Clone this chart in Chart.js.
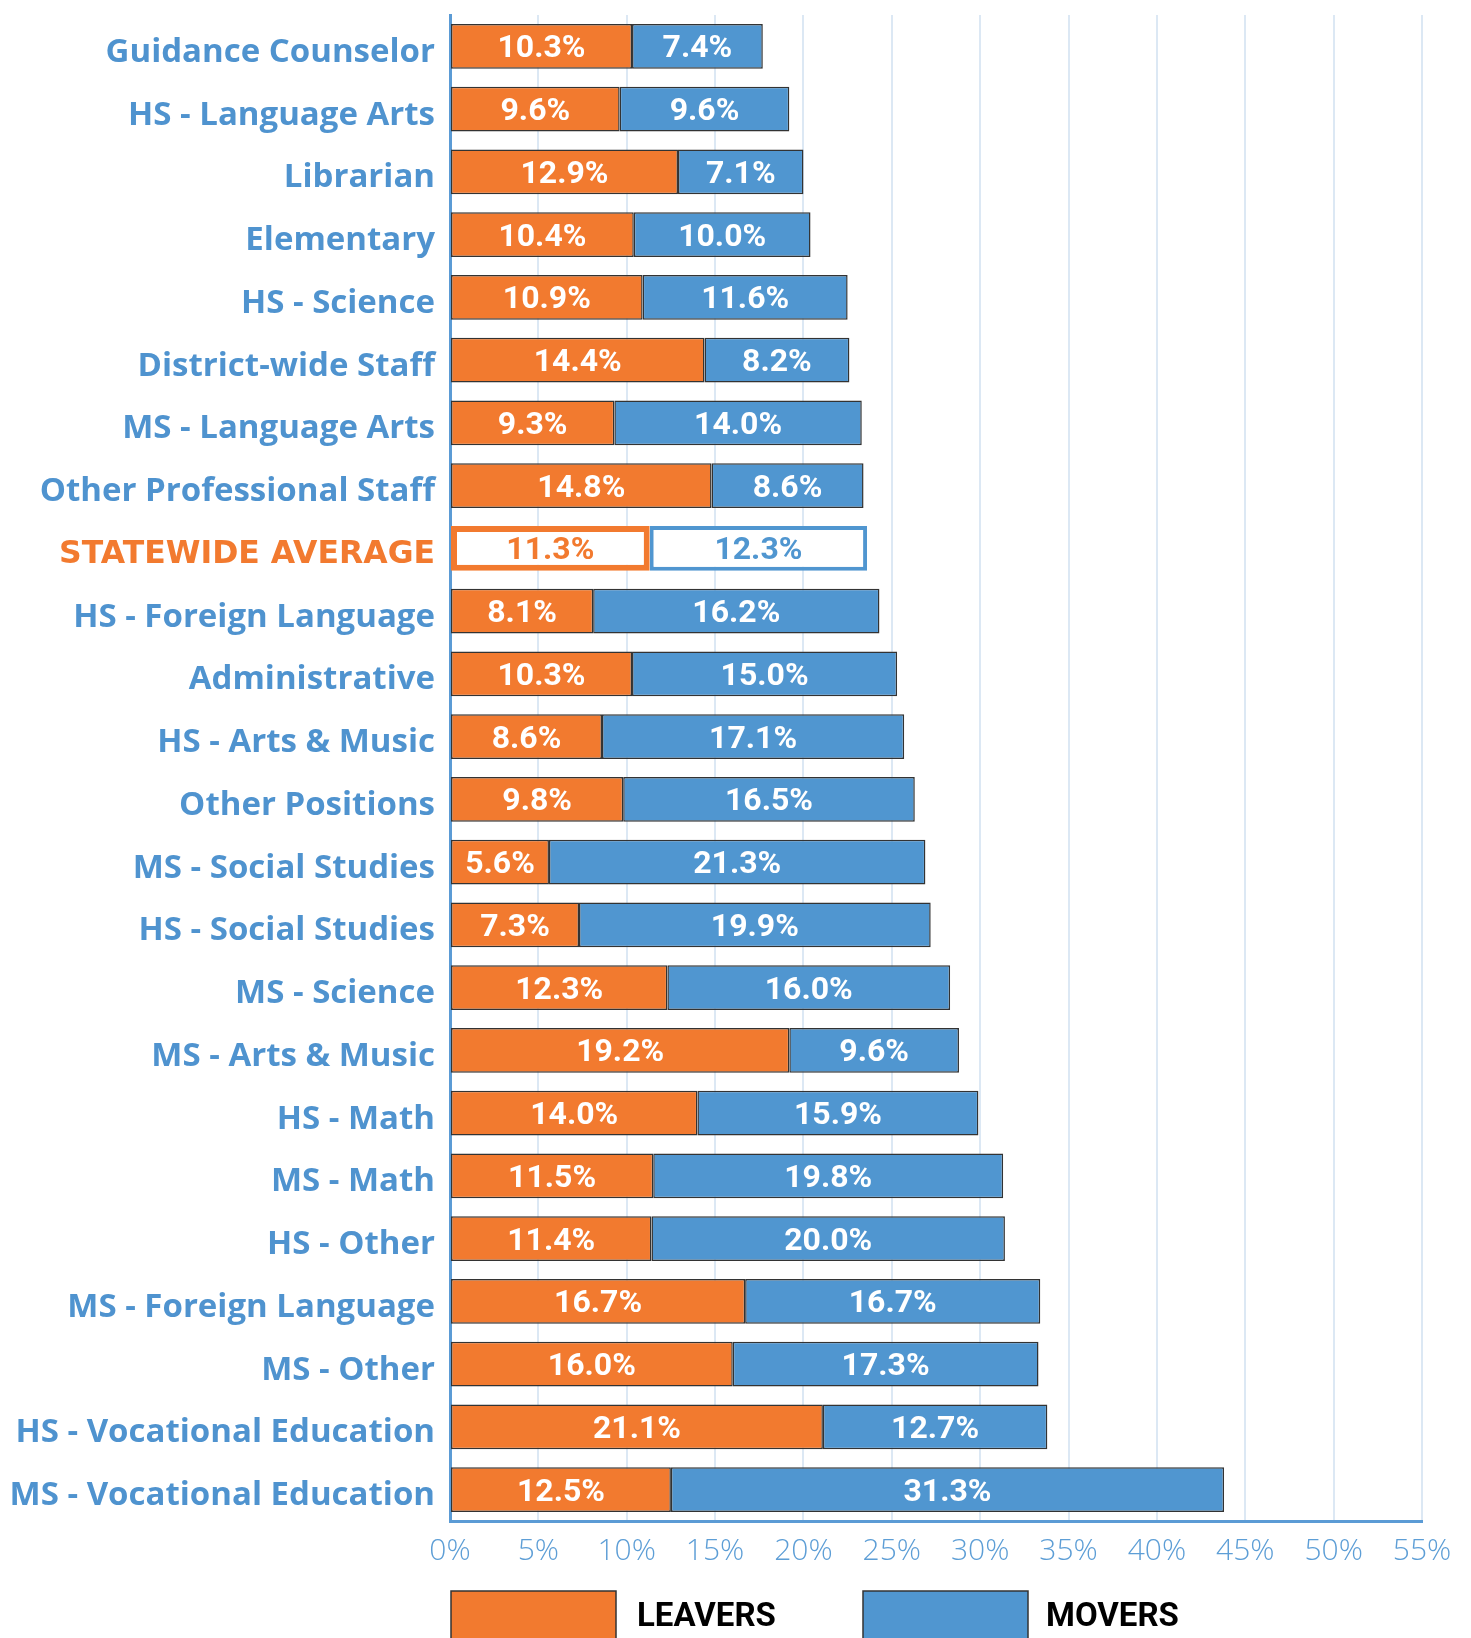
<!DOCTYPE html>
<html>
<head>
<meta charset="utf-8">
<script src="https://cdn.jsdelivr.net/npm/chart.js@4.4.1/dist/chart.umd.min.js"></script>
<style>
  body { margin: 0; background: #fff; }
  #wrap { width: 1471px; height: 1638px; position: relative; }
</style>
</head>
<body>
<div id="wrap"><canvas id="myChart"></canvas></div>
<script>
const categories = [
  "Guidance Counselor", "HS - Language Arts", "Librarian", "Elementary",
  "HS - Science", "District-wide Staff", "MS - Language Arts", "Other Professional Staff",
  "STATEWIDE AVERAGE", "HS - Foreign Language", "Administrative", "HS - Arts & Music",
  "Other Positions", "MS - Social Studies", "HS - Social Studies", "MS - Science",
  "MS - Arts & Music", "HS - Math", "MS - Math", "HS - Other",
  "MS - Foreign Language", "MS - Other", "HS - Vocational Education", "MS - Vocational Education"
];
const leavers = [10.3, 9.6, 12.9, 10.4, 10.9, 14.4, 9.3, 14.8, 11.3, 8.1, 10.3, 8.6,
  9.8, 5.6, 7.3, 12.3, 19.2, 14.0, 11.5, 11.4, 16.7, 16.0, 21.1, 12.5];
const movers = [7.4, 9.6, 7.1, 10.0, 11.6, 8.2, 14.0, 8.6, 12.3, 16.2, 15.0, 17.1,
  16.5, 21.3, 19.9, 16.0, 9.6, 15.9, 19.8, 20.0, 16.7, 17.3, 12.7, 31.3];
const xTicks = [0, 5, 10, 15, 20, 25, 30, 35, 40, 45, 50, 55];
const seriesNames = ["LEAVERS", "MOVERS"];

const ORANGE = "#f27a2f";
const BLUE = "#5096d0";
const avgIndex = categories.indexOf("STATEWIDE AVERAGE");

const fill = (c) => categories.map((_, i) => i === avgIndex ? "#ffffff" : c);
const edge = (c) => categories.map((_, i) => i === avgIndex ? c : "#333333");
const edgeW = (w) => categories.map((_, i) => i === avgIndex ? w : 1.5);

// value text inside each segment
const barLabels = {
  id: "barLabels",
  afterDatasetsDraw(chart) {
    const c = chart.ctx;
    c.save();
    c.font = "700 32px Roboto";
    c.textAlign = "center";
    c.textBaseline = "middle";
    chart.data.datasets.forEach((ds, di) => {
      chart.getDatasetMeta(di).data.forEach((bar, i) => {
        const x = (bar.x + bar.base) / 2;
        c.fillStyle = i === avgIndex ? (di === 0 ? ORANGE : BLUE) : "#ffffff";
        c.fillText(ds.data[i].toFixed(1) + "%", x, bar.y + 3);
      });
    });
    c.restore();
  }
};

// legend boxes at the bottom
const bottomLegend = {
  id: "bottomLegend",
  afterDraw(chart) {
    const c = chart.ctx;
    const left = chart.chartArea.left;
    c.save();
    chart.data.datasets.forEach((ds, di) => {
      const bx = left + 1 + di * 412;
      c.fillStyle = di === 0 ? ORANGE : BLUE;
      c.fillRect(bx, 1591, 165, 60);
      c.strokeStyle = "#333333";
      c.lineWidth = 1.5;
      c.strokeRect(bx, 1591, 165, 60);
      c.fillStyle = "#000000";
      c.font = "700 33px Roboto";
      c.textBaseline = "middle";
      c.fillText(ds.label, bx + 186 - di * 3, 1618);
    });
    c.restore();
  }
};

const context = document.getElementById("myChart").getContext("2d");

const myChart = new Chart(context, {
  type: "bar",
  data: {
    labels: categories,
    datasets: [
      {
        label: seriesNames[0],
        data: leavers,
        backgroundColor: fill(ORANGE),
        borderColor: edge(ORANGE),
        borderWidth: edgeW(6),
        borderSkipped: false,
        barPercentage: 0.717,
        categoryPercentage: 1
      },
      {
        label: seriesNames[1],
        data: movers,
        backgroundColor: fill(BLUE),
        borderColor: edge(BLUE),
        borderWidth: edgeW(4),
        borderSkipped: false,
        barPercentage: 0.717,
        categoryPercentage: 1
      }
    ]
  },
  options: {
    indexAxis: "y",
    responsive: true,
    maintainAspectRatio: false,
    animation: false,
    layout: { padding: { top: 0, right: 49, bottom: 0, left: 0 } },
    plugins: {
      legend: { display: false },
      tooltip: { enabled: false }
    },
    scales: {
      x: {
        stacked: true,
        min: 0,
        max: 55,
        afterBuildTicks: (s) => { s.ticks = xTicks.map((v) => ({ value: v })); },
        afterFit: (s) => { s.height = 117; },
        grid: { color: "#dce8f4", lineWidth: 2, drawTicks: false },
        border: { color: "#5b9bd5", width: 3 },
        ticks: {
          padding: 12,
          color: "#5d9ed6",
          font: { family: "Open Sans", size: 30, weight: 300 },
          callback: (v) => v + "%",
          maxRotation: 0
        }
      },
      y: {
        stacked: true,
        afterFit: (s) => { s.width = 450; },
        grid: { display: false, drawTicks: false },
        border: { color: "#5b9bd5", width: 3 },
        ticks: {
          padding: 15,
          labelOffset: 6,
          autoSkip: false,
          color: (ctx) => ctx.index === avgIndex ? ORANGE : "#4f93cf",
          font: (ctx) => ctx.index === avgIndex
            ? { family: "DejaVu Sans", size: 31.5, weight: 700, lineHeight: "0px" }
            : { family: "Open Sans", size: 33, weight: 700, lineHeight: "0px" }
        }
      }
    }
  },
  plugins: [barLabels, bottomLegend]
});
</script>
</body>
</html>
